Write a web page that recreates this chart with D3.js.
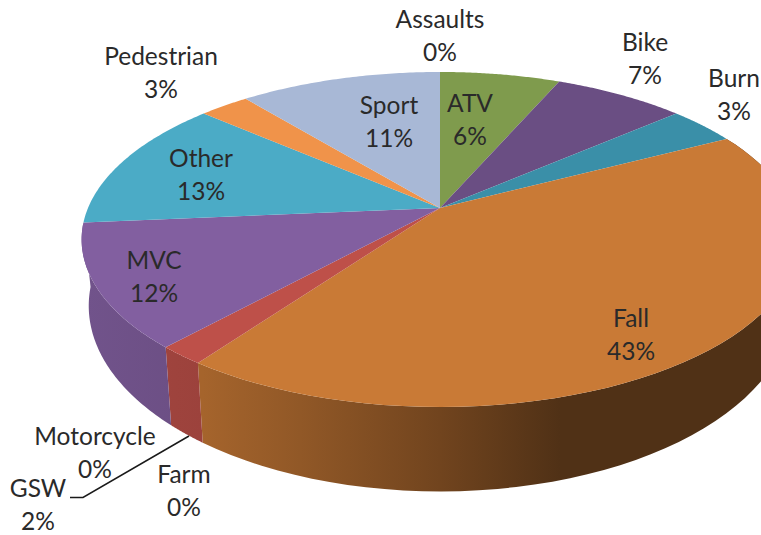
<!DOCTYPE html>
<html>
<head>
<meta charset="utf-8">
<script src="https://cdn.jsdelivr.net/npm/d3@7"></script>
<style>
    html, body { margin: 0; padding: 0; background: #fff; overflow: hidden; }
    svg { display: block; }
    text { font-family: Lato, "Open Sans", sans-serif; font-size: 24.5px; fill: #2a2a2a; text-anchor: middle; }
</style>
</head>
<body>
<div id="chart"></div>
<script>
    // clockwise from 12 o'clock
    const categories = ["Assaults", "ATV", "Bike", "Burn", "Fall", "Farm", "GSW", "Motorcycle", "MVC", "Other", "Pedestrian", "Sport"];
    const values = [0, 6.5, 7.1, 3.7, 42.6, 0, 1.8, 0, 11.9, 12.8, 2.7, 10.9];
    const percentLabels = ["0%", "6%", "7%", "3%", "43%", "0%", "2%", "0%", "12%", "13%", "3%", "11%"];

    const width = 761, height = 535;

    const colors = ["#a5a5a5", "#7f9b4d", "#6a4e83", "#3a8fa8", "#c97a36", "#c0504d", "#be5049", "#4bacc6", "#825fa0", "#4babc6", "#f0934a", "#a8b8d6"];

    // label centre x and first baseline
    const labelPos = [[440, 28], [470, 112], [645, 51], [734, 87], [631, 327], [184, 483], [38, 497], [95, 445], [154, 269], [201, 167], [161, 65], [389, 114]];

    const svg = d3.select("#chart")
        .append("svg")
        .attr("width", width)
        .attr("height", height);

    // perspective projection of the pie disc
    const k = 0.188;
    function project(angle, rim) {
        const u = Math.sin(angle), v = Math.cos(angle);
        const den = 1 + k * v;
        return [rim.x + rim.r * u / den, rim.y - rim.s * v / den];
    }
    const topRim = { x: 440, y: 208, r: 352, s: 161.6 };
    const bottomRim = { x: 440, y: 271, r: 345, s: 179 };

    const arcs = d3.pie().sort(null).value((d, i) => values[i])(categories)
        .filter(a => a.endAngle > a.startAngle);
    const line = d3.line();

    function rimPoints(d, rim) {
        return d3.range(0, 61).map(j => project(d.startAngle + (d.endAngle - d.startAngle) * j / 60, rim));
    }

    // side wall gets darker towards the right
    const shadeX = [85, 203, 300, 440, 560, 761];
    const shadeF = [0.87, 0.82, 0.72, 0.56, 0.4, 0.4];

    const frontArcs = arcs.filter(a => Math.cos((a.startAngle + a.endAngle) / 2) < 0);

    const grads = svg.append("defs")
        .selectAll("linearGradient")
        .data(frontArcs)
        .join("linearGradient")
        .attr("id", d => "wall" + d.index)
        .attr("gradientUnits", "userSpaceOnUse")
        .attr("x1", shadeX[0])
        .attr("x2", shadeX[shadeX.length - 1])
        .attr("y1", 0)
        .attr("y2", 0);
    grads.selectAll("stop")
        .data(d => shadeX.map((x, i) => ({ x: x, f: shadeF[i], base: d3.rgb(colors[d.index]) })))
        .join("stop")
        .attr("offset", d => (d.x - shadeX[0]) / (shadeX[shadeX.length - 1] - shadeX[0]))
        .attr("stop-color", d => d3.rgb(d.base.r * d.f, d.base.g * d.f, d.base.b * d.f).formatHex());

    svg.append("g")
        .selectAll("path")
        .data(frontArcs)
        .join("path")
        .attr("fill", d => `url(#wall${d.index})`)
        .attr("d", d => line([...rimPoints(d, topRim), ...rimPoints(d, bottomRim).reverse()]) + "Z");

    // top face
    svg.append("g")
        .selectAll("path")
        .data(arcs)
        .join("path")
        .attr("fill", d => colors[d.index])
        .attr("d", d => line([[topRim.x, topRim.y], ...rimPoints(d, topRim)]) + "Z");

    // leader line for GSW
    svg.append("path")
        .attr("d", line([[70, 497.5], [83, 497.5], [189, 436]]))
        .attr("fill", "none")
        .attr("stroke", "#1a1a1a")
        .attr("stroke-width", 1.5);

    // labels
    const labels = svg.append("g")
        .selectAll("text")
        .data(categories)
        .join("text")
        .attr("x", (d, i) => labelPos[i][0])
        .attr("y", (d, i) => labelPos[i][1]);
    labels.append("tspan")
        .text(d => d);
    labels.append("tspan")
        .attr("x", (d, i) => labelPos[i][0])
        .attr("dy", 33)
        .text((d, i) => percentLabels[i]);
</script>
</body>
</html>
